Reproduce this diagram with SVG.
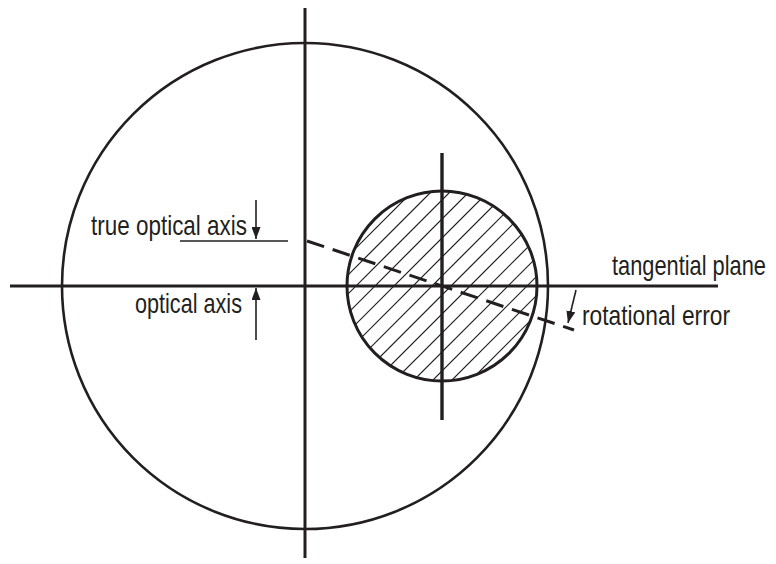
<svg xmlns="http://www.w3.org/2000/svg" width="776" height="564" viewBox="0 0 776 564">
<defs>
<style>
.ax{stroke:#231f20;stroke-width:3;fill:none}
.circ{stroke:#231f20;stroke-width:2.6;fill:none}
.thin{stroke:#231f20;stroke-width:1.6;fill:none}
.hatch{stroke:#231f20;stroke-width:1.2;fill:none}
.dash{stroke:#231f20;stroke-width:3;fill:none;stroke-dasharray:18 9}
.lbl{font-family:"Liberation Sans",Arial,sans-serif;font-size:27px;fill:#231f20}
</style>
<marker id="ah" viewBox="0 0 12 9" refX="12" refY="4.5" markerWidth="12" markerHeight="9" markerUnits="userSpaceOnUse" orient="auto">
<path d="M0,0 L12,4.5 L0,9 z" fill="#231f20"/>
</marker>
<clipPath id="cp"><circle cx="442" cy="286" r="95"/></clipPath>
</defs>
<rect width="776" height="564" fill="#ffffff"/>
<g id="big-circle">
<circle class="circ" cx="305" cy="286" r="243"/>
</g>
<g id="hatched-circle">
<g clip-path="url(#cp)" class="hatch">
<path d="M424,180 L212,392 M443,180 L231,392 M462,180 L250,392 M481,180 L269,392 M500,180 L288,392 M519,180 L307,392 M538,180 L326,392 M557,180 L345,392 M576,180 L364,392 M595,180 L383,392 M614,180 L402,392 M633,180 L421,392 M652,180 L440,392 M671,180 L459,392 M690,180 L478,392 M405,180 L193,392 M386,180 L174,392 M367,180 L155,392 M348,180 L136,392 M329,180 L117,392"/>
</g>
<circle class="ax" cx="442" cy="286" r="95"/>
<line class="ax" x1="442" y1="153" x2="442" y2="420" style="stroke-width:3.4"/>
</g>
<g id="axes">
<line class="ax" x1="305" y1="8" x2="305" y2="558"/>
<line class="ax" x1="10" y1="286" x2="718" y2="286"/>
</g>
<g id="rotated-axis">
<line class="dash" x1="307" y1="241" x2="574" y2="330"/>
</g>
<g id="connectors">
<line class="thin" x1="256" y1="200" x2="256" y2="239" marker-end="url(#ah)"/>
<line class="thin" x1="180" y1="241" x2="288" y2="241"/>
<line class="thin" x1="256" y1="340" x2="256" y2="288" marker-end="url(#ah)"/>
<line class="thin" x1="576" y1="290" x2="568" y2="323" marker-end="url(#ah)"/>
</g>
<g id="label-true-optical-axis">
<text class="lbl" transform="translate(91,235) scale(0.832,1)">true optical axis</text>
</g>
<g id="label-optical-axis">
<text class="lbl" transform="translate(135,313) scale(0.801,1)">optical axis</text>
</g>
<g id="label-tangential-plane">
<text class="lbl" transform="translate(612,275) scale(0.808,1)">tangential plane</text>
</g>
<g id="label-rotational-error">
<text class="lbl" transform="translate(582,325) scale(0.843,1)">rotational error</text>
</g>
</svg>
